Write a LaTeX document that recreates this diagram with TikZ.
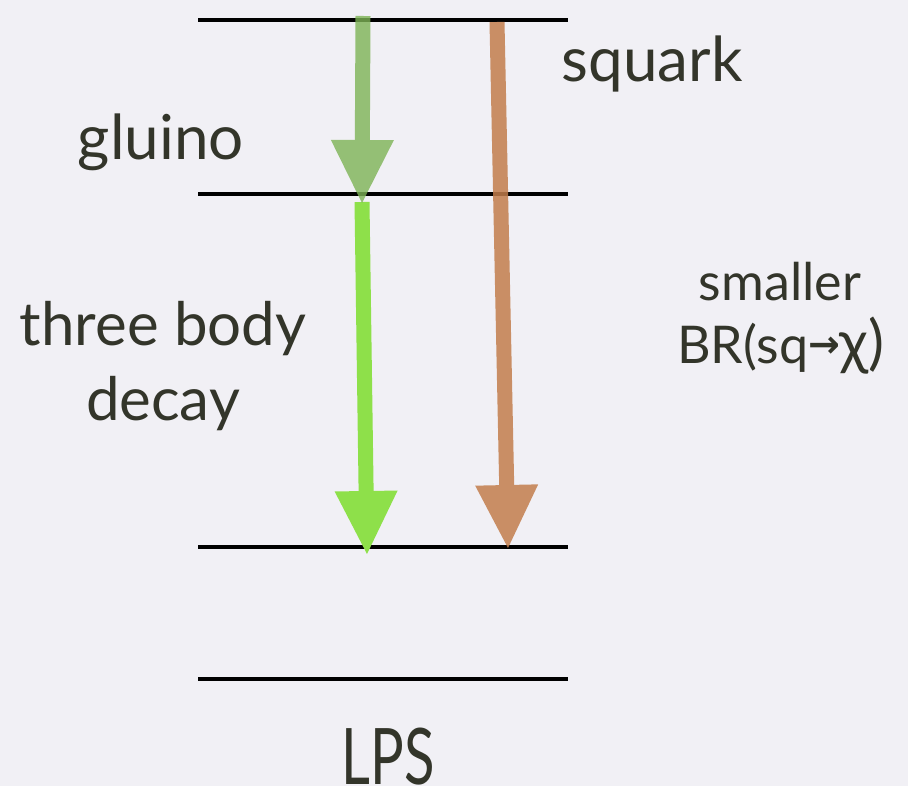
\documentclass[tikz,border=0pt]{standalone}
\usepackage{fontspec}
\setmainfont{Lato}
\newfontfamily\symfont{DejaVu Sans}
\usetikzlibrary{arrows.meta}
\definecolor{bg}{HTML}{F1F0F5}
\definecolor{ink}{HTML}{33352A}
\definecolor{gdark}{HTML}{7DB355}
\definecolor{glight}{HTML}{8EE04A}
\definecolor{brownish}{HTML}{C27D4C}
\tikzset{
  level/.style={line width=4.5pt, black},
  decay/.style={line width=15pt, -{Triangle[width=63pt,length=63pt,line width=0pt]}},
  lbl/.style={text=ink, font=\fontsize{62}{75}\selectfont, anchor=base, inner sep=0pt},
  smalllbl/.style={text=ink, font=\fontsize{52}{60}\selectfont, anchor=base, inner sep=0pt},
}
\begin{document}
\begin{tikzpicture}[x=1pt,y=-1pt]
  \fill[bg] (0,0) rectangle (908,786);
  \useasboundingbox (0,0) rectangle (908,786);

  % energy levels
  \foreach \n/\y in {lA/20, lB/194, lC/547, lD/679}{
    \coordinate (\n-w) at (198,\y);
    \coordinate (\n-e) at (568,\y);
    \draw[level] (\n-w) -- (\n-e);
  }

  % decay arrows
  \coordinate (g1s) at (363,16);
  \coordinate (g1e) at (362,203);
  \coordinate (g2s) at (362,202);
  \coordinate (g2e) at (367,554);
  \coordinate (sqs) at (497,22);
  \coordinate (sqe) at (508,548);

  \begin{scope}[transparency group, opacity=0.85]
    \draw[decay, brownish] (sqs) -- (sqe);
  \end{scope}
  \draw[decay, glight] (g2s) -- (g2e);
  \begin{scope}[transparency group, opacity=0.8]
    \draw[decay, gdark] (g1s) -- (g1e);
  \end{scope}

  % labels
  \node[lbl] (squark) at (652,82) {squark};
  \node[lbl] (gluino) at (161,160) {gluino};
  \node[lbl, font=\fontsize{60}{75}\selectfont] (three) at (163,345) {three body};
  \node[lbl, font=\fontsize{60}{75}\selectfont] (decay) at (163,420) {decay};
  \node[smalllbl] (smaller) at (780,301) {smaller};
  \node[smalllbl] (br) at (781,364)
    {BR(sq\raisebox{6pt}{\symfont\bfseries\fontsize{38}{38}\selectfont\char"2192}\fontsize{60}{60}\selectfont χ)};
  \node[lbl] (lps) at (388,784)
    {\scalebox{0.72}[1]{\fontsize{78}{80}\selectfont LPS}};
\end{tikzpicture}
\end{document}
